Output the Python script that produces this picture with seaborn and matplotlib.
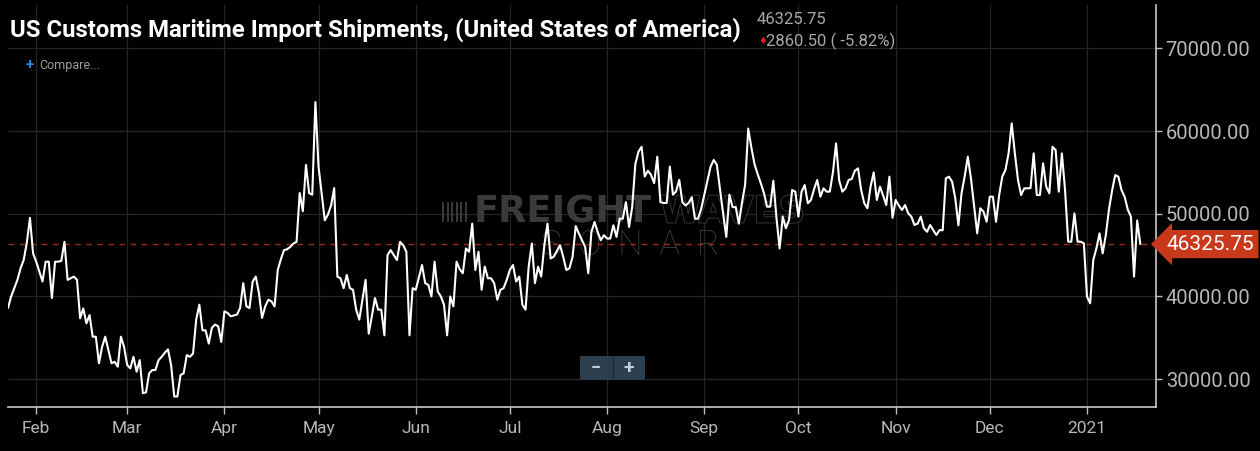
import matplotlib
matplotlib.use("Agg")
import numpy as np
import pandas as pd
import matplotlib.pyplot as plt
import matplotlib.transforms as mtransforms
import matplotlib.patheffects as pe
from matplotlib.patches import FancyBboxPatch, Rectangle
from matplotlib import font_manager as fm
import seaborn as sns

# ---------------- data ----------------
start_date = "2020-01-23"
values_jan_mar = [38600, 40000, 41000, 42000, 43400, 44400, 46500, 49500, 45200, 44200,
                  43000, 41800, 44200, 44200, 39800, 44200, 44200, 44300, 46600, 42000,
                  42200, 42400, 42000, 37350, 38550, 36750, 37750, 35130, 35130, 31920,
                  33900, 35130, 33500, 31920, 32100, 31500, 35130, 33900, 31700, 31300,
                  32700, 30900, 32300, 28300, 28400, 30700, 31100, 31100, 32300, 32700,
                  33200, 33600, 31700, 27900, 27900, 30500, 30700, 32900, 32700, 33100,
                  37200, 39000]
values_mar_may = [35900, 35900, 34300, 36200, 36600, 36400, 34500, 38200, 38000, 37600,
                  37700, 37800, 38600, 41600, 38800, 38600, 41800, 42400, 40400, 37400,
                  38800, 39600, 39400, 38800, 43200, 44500, 45600, 45700, 46000, 46400,
                  46600, 52500, 50300, 55900, 52500, 52300, 63500, 55700, 52500, 49200,
                  49900, 51000, 53100, 42400, 42200, 41000, 42600, 41000, 40800, 38400,
                  37200, 39600, 42000, 35500, 37600, 39800, 38400, 38400, 35300, 45000]
values_may_jul = [45600, 45000, 44400, 46600, 46200, 45400, 35300, 41000, 40800, 42300,
                  43800, 41600, 41400, 40000, 44200, 40600, 40000, 39000, 35300, 40000,
                  38800, 44200, 43300, 42800, 45800, 45400, 48800, 43200, 45400, 40800,
                  43600, 42200, 42200, 41600, 39600, 40800, 41000, 42000, 43200, 43800,
                  41800, 42400, 39000, 38400, 43600, 46400, 41600, 43600, 42400, 46200,
                  48800, 44600, 44800, 45500, 46200, 44800, 43200, 43400, 44800, 48500]
values_jul_sep = [47600, 46800, 46000, 42800, 47800, 49000, 47800, 46800, 47400, 47000,
                  47000, 48600, 47200, 49400, 49400, 51400, 48400, 50800, 56000, 57500,
                  58100, 54500, 55200, 54700, 53700, 56900, 51400, 51300, 51300, 55700,
                  52300, 52700, 54100, 51400, 51000, 51300, 52000, 49400, 49400, 50600,
                  52300, 54000, 55700, 56500, 55900, 52900, 50000, 47200, 52300, 50800,
                  50800, 48800, 51300, 53500, 60300, 58000, 56000, 54800, 53700, 52500]
values_sep_nov = [50850, 50850, 54000, 49500, 45800, 49650, 48240, 49240, 52870, 52670,
                  49650, 52670, 53470, 51260, 51660, 53000, 54080, 52060, 53070, 52670,
                  52670, 55000, 58500, 54000, 52670, 53070, 54080, 54200, 55200, 55490,
                  52870, 51260, 50660, 53270, 55000, 51660, 53270, 52200, 51050, 54480,
                  49500, 51660, 51000, 50450, 51050, 50050, 49650, 48640, 48800, 49650,
                  48240, 47820, 48640, 48000, 47430, 48030, 48000, 54280, 54480, 53870]
values_nov_jan = [51870, 48600, 52470, 54500, 56900, 54280, 51000, 47630, 50660, 50250,
                  49030, 52060, 52060, 49030, 52260, 54500, 55300, 57300, 60930, 57300,
                  54080, 52260, 53070, 53070, 53100, 57300, 52260, 52260, 56100, 53270,
                  52470, 58100, 57700, 52670, 57300, 52870, 46620, 46620, 50050, 46620,
                  46620, 46420, 39970, 39170, 44400, 45820, 47630, 45210, 47430, 50500,
                  52800, 54680, 54480, 52870, 52060, 50500, 49650, 42400, 49186.25, 46325.75]

last_value = 46325.75
change_abs = 2860.50
change_pct = -5.82

title = "US Customs Maritime Import Shipments, (United States of America)"
y_ticks = [30000, 40000, 50000, 60000, 70000]
month_ticks = ["2020-02-01", "2020-03-01", "2020-04-01", "2020-05-01", "2020-06-01",
               "2020-07-01", "2020-08-01", "2020-09-01", "2020-10-01", "2020-11-01",
               "2020-12-01", "2021-01-01"]
month_labels = ["Feb", "Mar", "Apr", "May", "Jun", "Jul", "Aug", "Sep", "Oct", "Nov",
                "Dec", "2021"]

values = (values_jan_mar + values_mar_may + values_may_jul + values_jul_sep
          + values_sep_nov + values_nov_jan)
dates = pd.date_range(start_date, periods=len(values), freq="D")
df = pd.DataFrame({"date": dates, "value": values})

# ---------------- style ----------------
sns.set_theme(style="dark")
avail = {f.name for f in fm.fontManager.ttflist}
narrow = "Liberation Sans Narrow" if "Liberation Sans Narrow" in avail else "Roboto"
plt.rcParams["font.family"] = ["Roboto", "DejaVu Sans"]

W, H = 1260, 451
fig = plt.figure(figsize=(W / 100, H / 100), dpi=100, facecolor="black")
ax = fig.add_axes([8 / W, 1 - 407 / H, (1156 - 8) / W, (407 - 5) / H])
ax.set_facecolor("black")

sns.lineplot(data=df, x="date", y="value", ax=ax, color="white", linewidth=1.5,
             zorder=3)

ax.set_xlim(pd.Timestamp("2020-01-23"), pd.Timestamp("2021-01-23"))
ax.set_ylim(26630, 75240)
ax.set_xlabel("")
ax.set_ylabel("")

ax.set_yticks(y_ticks)
ax.set_yticklabels([f"{v:.2f}" for v in y_ticks])
ax.set_xticks(pd.to_datetime(month_ticks))
ax.set_xticklabels(month_labels, fontfamily=narrow)

ax.yaxis.tick_right()
ax.tick_params(axis="y", which="both", left=False, right=True, labelleft=False,
               labelright=True, labelcolor="#b8b8b8", labelsize=14.5, color="#bdbdbd",
               length=4, width=1, pad=3)
ax.tick_params(axis="x", labelcolor="#b8b8b8", labelsize=12.5, color="#bdbdbd",
               length=5, width=1, pad=5, bottom=True)

ax.grid(True, color="#262626", linewidth=0.9)
for s in ["left", "top"]:
    ax.spines[s].set_visible(False)
for s in ["right", "bottom"]:
    ax.spines[s].set_color("#c8c8c8")
    ax.spines[s].set_linewidth(1.2)

# last-value dashed line
ax.axhline(last_value, color="#a02a18", linewidth=1.0, linestyle=(0, (4, 4)), zorder=2)

# price badge
blend = mtransforms.blended_transform_factory(ax.transAxes, ax.transData)
ax.text(1.009, last_value, f"{last_value:.2f}", transform=blend, ha="left",
        va="center", color="white", fontsize=15,
        bbox=dict(boxstyle="larrow,pad=0.22", fc="#c8391b", ec="none"),
        clip_on=False, zorder=6)

# watermark
wm = "#3a3a3a"
ax.text(474 / W, 1 - 212 / H, "FREIGHT", transform=fig.transFigure, ha="left",
        va="center", color=wm, fontsize=26.5, fontweight="heavy",
        fontfamily="DejaVu Sans", zorder=1)
ax.text(660 / W, 1 - 212 / H, "WAVES", transform=fig.transFigure, ha="left",
        va="center", color="black", fontsize=26.5, fontweight="heavy",
        fontfamily="DejaVu Sans", zorder=1,
        path_effects=[pe.Stroke(linewidth=1.3, foreground=wm), pe.Normal()])
ax.text(630 / W, 1 - 245 / H, "S  O  N  A  R", transform=fig.transFigure,
        ha="center", va="center", color=wm, fontsize=25, fontweight="light",
        zorder=1)
for i in range(6):
    ax.add_patch(Rectangle(((442 + i * 4.5) / W, 1 - 222 / H), 2.2 / W, 20 / H,
                           transform=fig.transFigure, fc=wm, ec="none", zorder=1,
                           clip_on=False))

# zoom buttons
ax.add_patch(FancyBboxPatch((580 / W, 1 - 380 / H), 65 / W, 24 / H,
                            boxstyle="round,pad=0,rounding_size=0.002",
                            transform=fig.transFigure, fc="#2c3f4e", ec="none",
                            zorder=5, clip_on=False))
ax.plot([613 / W, 613 / W], [1 - 378 / H, 1 - 358 / H], transform=fig.transFigure,
        color="#1d2a34", linewidth=1, zorder=6, clip_on=False)
ax.text(596 / W, 1 - 368 / H, "\u2212", transform=fig.transFigure, ha="center",
        va="center", color="#c5ced6", fontsize=13, fontweight="bold", zorder=7)
ax.text(629 / W, 1 - 368 / H, "+", transform=fig.transFigure, ha="center",
        va="center", color="#c5ced6", fontsize=14, fontweight="bold", zorder=7)

# title and header texts
fig.text(10 / W, 1 - 37 / H, title, ha="left", va="baseline", color="white",
         fontsize=17.2, fontweight="bold", fontfamily=narrow)
fig.text(757 / W, 1 - 24 / H, f"{last_value:.2f}", ha="left", va="baseline",
         color="#a8a8a8", fontsize=12, fontfamily=narrow)
fig.text(758 / W, 1 - 41 / H, "\u2666", ha="left", va="center", color="#e02020",
         fontsize=7, fontfamily="DejaVu Sans")
fig.text(766 / W, 1 - 46 / H, f"{change_abs:.2f} ( {change_pct:.2f}%)", ha="left",
         va="baseline", color="#a8a8a8", fontsize=12, fontfamily=narrow)
fig.text(26 / W, 1 - 65 / H, "+", ha="left", va="center", color="#2f86e0",
         fontsize=11, fontweight="bold")
fig.text(39 / W, 1 - 66 / H, "Compare...", ha="left", va="center", color="#9a9a9a",
         fontsize=9, fontfamily=narrow)

fig.savefig("out.png", dpi=100, facecolor="black")
